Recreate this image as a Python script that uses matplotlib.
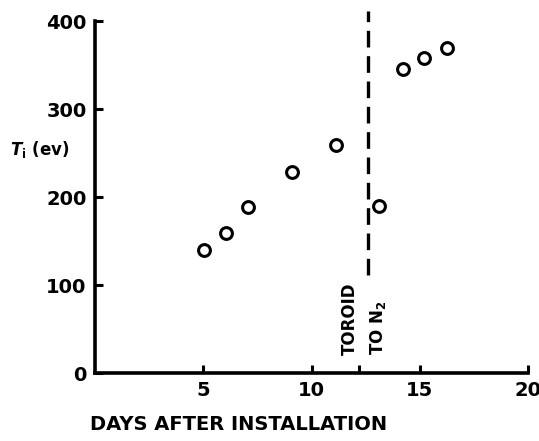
import matplotlib
matplotlib.use("Agg")
import matplotlib.pyplot as plt

# data
days = [5.05, 6.05, 7.05, 9.1, 11.15, 13.1, 14.2, 15.2, 16.25]
ion_temp = [140, 159, 189, 228, 259, 190, 346, 358, 369]

x_ticks = [5, 10, 15, 20]
y_ticks = [0, 100, 200, 300, 400]
switch_day = 12.6

plt.rcParams['font.family'] = ['DejaVu Sans']
plt.rcParams['font.weight'] = 'bold'

fig = plt.figure(figsize=(5.39, 4.41), dpi=100)
ax = fig.add_axes([0.176, 0.154, 0.804, 0.798])

ax.plot(days, ion_temp, 'o', mfc='white', mec='black', ms=8.5, mew=2.2,
        linestyle='none')

# toroid switched to N2
ax.plot([switch_day, switch_day], [111, 412], color='black', lw=2.4,
        dashes=(5, 2.6), clip_on=False)
ax.text(11.75, 20, "TOROID", rotation=90, ha='center', va='bottom',
        fontsize=12, fontweight='bold')
ax.text(13.05, 20, "TO N$_\\mathbf{2}$", rotation=90, ha='center', va='bottom',
        fontsize=12, fontweight='bold')

ax.set_xlim(0, 20)
ax.set_ylim(0, 400)
ax.set_xticks(x_ticks)
ax.set_xticks([12.2], minor=True)
ax.set_yticks(y_ticks)
ax.set_xticklabels([str(t) for t in x_ticks], fontsize=14, fontweight='bold')
ax.set_yticklabels([str(t) for t in y_ticks], fontsize=14, fontweight='bold')
ax.tick_params(which='both', direction='in', length=6, width=2.2, pad=6)

for side in ['top', 'right']:
    ax.spines[side].set_visible(False)
for side in ['left', 'bottom']:
    ax.spines[side].set_linewidth(2.6)

fig.text(10 / 539, 1 - 150 / 441, "$T_\\mathbf{i}$ (ev)", fontsize=12,
         fontweight='bold', va='center', ha='left')
fig.text(90 / 539, 1 - 425 / 441, "DAYS AFTER INSTALLATION", fontsize=14,
         fontweight='bold', va='center', ha='left')

fig.savefig("out.png", dpi=100)
